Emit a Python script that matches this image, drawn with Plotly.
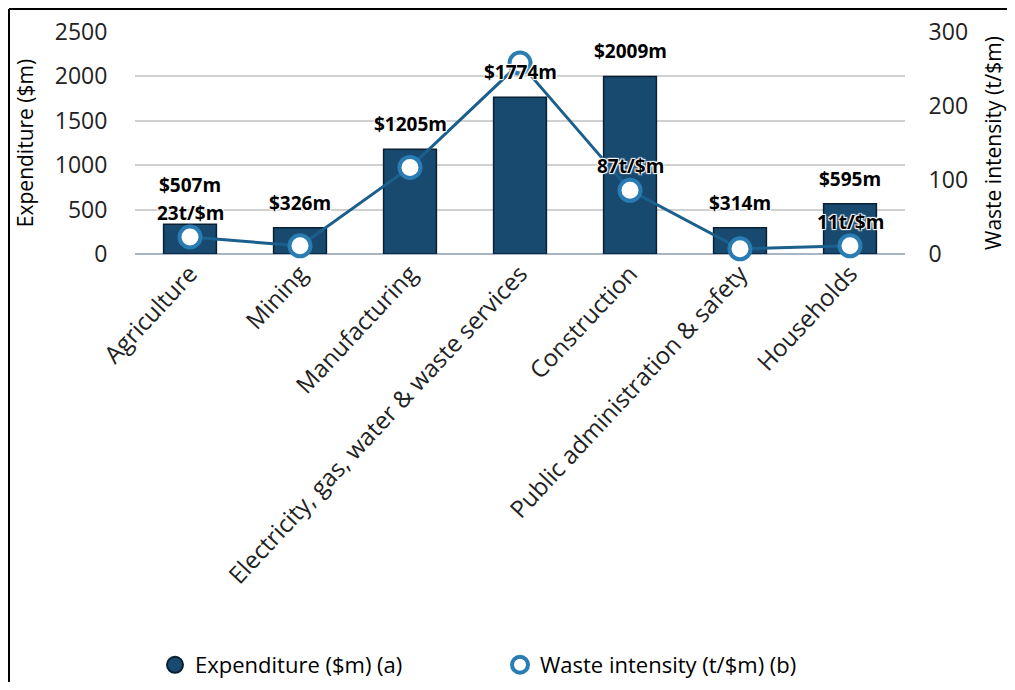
import plotly.graph_objects as go

# sectors
categories = ['Agriculture', 'Mining', 'Manufacturing',
              'Electricity, gas, water & waste services', 'Construction',
              'Public administration & safety', 'Households']
# bar heights as drawn ($m)
expenditure = [335, 295, 1180, 1765, 2000, 295, 565]
expenditure_labels = ['$507m', '$326m', '$1205m', '$1774m', '$2009m', '$314m', '$595m']
# waste intensity line (t/$m)
waste_intensity = [23, 11, 117, 258, 86, 7, 11]
waste_labels = ['23t/$m', None, None, None, '87t/$m', None, '11t/$m']

BAR_COLOR = '#184a70'
BAR_EDGE = '#0b1f33'
LINE_COLOR = '#1b5f8d'
RING_COLOR = '#2a7db3'
FONT = 'Open Sans'

# page body has an 8px margin; keep the figure inside the window
W, H = 999, 674
L, T, PW, PH = 127, 24, 770, 222

fig = go.Figure()
fig.add_trace(go.Bar(
    x=categories,
    y=expenditure,
    marker=dict(color=BAR_COLOR, line=dict(color=BAR_EDGE, width=1.5)),
    width=0.48,
    showlegend=False,
))
fig.add_trace(go.Scatter(
    x=categories,
    y=waste_intensity,
    yaxis='y2',
    mode='lines+markers',
    line=dict(color=LINE_COLOR, width=3),
    marker=dict(size=21, color='white', line=dict(color=RING_COLOR, width=4)),
    showlegend=False,
    cliponaxis=False,
))

# legend-only entries (round symbols like the original)
fig.add_trace(go.Scatter(
    x=[None], y=[None], mode='markers', name='Expenditure ($m) (a)',
    marker=dict(size=20, color=BAR_COLOR, line=dict(color=BAR_EDGE, width=2)),
))
fig.add_trace(go.Scatter(
    x=[None], y=[None], mode='markers', name='Waste intensity (t/$m) (b)',
    marker=dict(size=18, color='white', line=dict(color=RING_COLOR, width=4)),
))

label_font = dict(family=FONT, size=19, color='black', weight='bold',
                  shadow='1px 1px 1px white, -1px -1px 1px white, 1px -1px 1px white, -1px 1px 1px white')

for i, cat in enumerate(categories):
    shift = 10
    if waste_labels[i] and i == 0:
        shift = 24
    fig.add_annotation(x=cat, y=expenditure[i], text=expenditure_labels[i],
                       showarrow=False, yanchor='bottom', yshift=shift, font=label_font)
    if waste_labels[i]:
        fig.add_annotation(x=cat, y=waste_intensity[i], yref='y2', text=waste_labels[i],
                           showarrow=False, yanchor='bottom', yshift=9, font=label_font)

# outer frame: only top and left edges are visible in the original
top_y = (T + PH - 1) / PH
left_x = (1 - L) / PW
fig.add_shape(type='line', xref='paper', yref='paper',
              x0=left_x, x1=(W + 20 - L) / PW, y0=top_y, y1=top_y,
              line=dict(color='black', width=2))
fig.add_shape(type='line', xref='paper', yref='paper',
              x0=left_x, x1=left_x, y0=(T + PH - H - 20) / PH, y1=top_y,
              line=dict(color='black', width=2))

fig.update_layout(
    width=W,
    height=H,
    autosize=False,
    margin=dict(l=L, r=W - L - PW, t=T, b=H - T - PH, pad=0),
    paper_bgcolor='white',
    plot_bgcolor='white',
    font=dict(family=FONT, color='#222222'),
    bargap=0.5,
    xaxis=dict(
        automargin=False,
        tickangle=-47,
        tickfont=dict(size=24, color='#222222'),
        showgrid=False,
        showline=False,
        ticks='',
    ),
    yaxis=dict(
        automargin=False,
        range=[0, 2500],
        dtick=500,
        tickfont=dict(size=23, color='#222222'),
        gridcolor='#d0d0d0',
        gridwidth=1.5,
        zeroline=True,
        zerolinecolor='#a9b4c4',
        zerolinewidth=1.5,
        title=dict(text='Expenditure ($m)', font=dict(size=21, color='black'), standoff=15),
        ticklen=22, tickcolor='white', ticks='outside',
    ),
    yaxis2=dict(
        automargin=False,
        range=[0, 300],
        dtick=100,
        overlaying='y',
        side='right',
        showgrid=False,
        zeroline=False,
        tickfont=dict(size=23, color='#222222'),
        title=dict(text='Waste intensity (t/$m)', font=dict(size=21, color='black'), standoff=25),
        ticklen=18, tickcolor='white', ticks='outside',
    ),
    legend=dict(
        orientation='h',
        xref='container', yref='container',
        x=147 / W, xanchor='left',
        y=(H - 657) / H, yanchor='middle',
        font=dict(size=22, color='black'),
        entrywidth=300,
        itemsizing='trace',
    ),
)

fig.write_html("out.html")
